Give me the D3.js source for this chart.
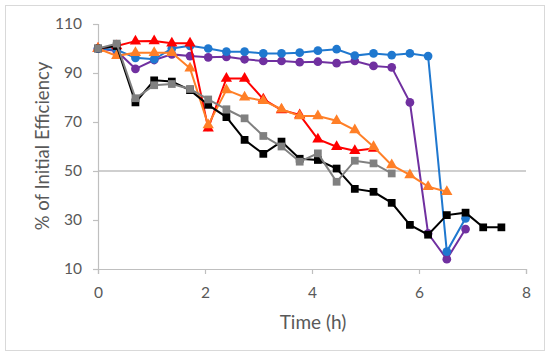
<!DOCTYPE html>
<html>
<head>
<meta charset="utf-8">
<script src="https://cdn.jsdelivr.net/npm/d3@7"></script>
<style>
  body { margin: 0; background: #fff; }
  svg { display: block; font-family: Lato, "Open Sans", sans-serif; }
  .line { fill: none; stroke-width: 2; }
</style>
</head>
<body>
<svg></svg>
<script>
// sampling times (h), shared by every series
var times = [0, 0.35, 0.70, 1.05, 1.38, 1.72, 2.06, 2.40, 2.74, 3.09, 3.43, 3.77,
             4.11, 4.46, 4.80, 5.15, 5.49, 5.83, 6.17, 6.52, 6.87, 7.20, 7.54];

var blackVals  = [100, 101, 78, 87, 86.5, 83, 77, 72, 62.7, 57, 62, 55, 54.5, 51, 42.7,
                  41.5, 37, 28, 24, 32, 33, 27, 27];
var grayVals   = [100, 102, 79.7, 85, 85.5, 83.5, 79.2, 75.2, 71.5, 64.3, 60, 53.8, 57.2,
                  45.6, 54.2, 53.1, 49];
var redVals    = [100, 101, 103, 103.1, 102.1, 102.1, 67.5, 87.8, 87.8, 79.3, 74.9, 72.9,
                  63, 59.9, 58.3, 59.2];
var orangeVals = [100, 97, 98.3, 98.3, 98.3, 91.9, 68.8, 83.1, 80.1, 78.7, 75.2, 72.4,
                  72.4, 70.5, 66.7, 59.9, 52.4, 48.4, 43.6, 41.5];
var blueVals   = [100, 99.5, 96.2, 95.6, 100, 101.1, 100, 98.7, 98.7, 98, 98, 98.3, 99.1,
                  99.7, 97.1, 98, 97.3, 98, 96.9, 17.1, 30.7];
var purpleVals = [100, 99, 91.7, 95.3, 97.6, 96.9, 96.4, 96.6, 95.6, 94.9, 94.9, 94.4,
                  94.6, 94, 94.9, 92.9, 92.3, 78, 24.5, 14, 26.3];

var xTicks = [0, 2, 4, 6, 8];
var yTicks = [10, 30, 50, 70, 90, 110];
var refLine = 50;

// draw order: later ones on top
var series = [
  { name: "purple", vals: purpleVals, color: "#7030A0", shape: d3.symbolCircle, size: 60 },
  { name: "blue",   vals: blueVals,   color: "#1F78CF", shape: d3.symbolCircle, size: 60 },
  { name: "red",    vals: redVals,    color: "#FF0000", shape: d3.symbolTriangle, size: 55 },
  { name: "orange", vals: orangeVals, color: "#FF7F27", shape: d3.symbolTriangle, size: 55 },
  { name: "black",  vals: blackVals,  color: "#000000", shape: d3.symbolSquare, size: 60 },
  { name: "gray",   vals: grayVals,   color: "#808080", shape: d3.symbolSquare, size: 60 }
];

var svgWidth = 550, svgHeight = 358;
var svg = d3.select("svg").attr("width", svgWidth).attr("height", svgHeight);

// chart frame
svg.append("rect")
  .attr("x", 5.5).attr("y", 5.5)
  .attr("width", 539).attr("height", 345)
  .attr("fill", "none").attr("stroke", "#d9d9d9");

var x = d3.scaleLinear().domain([0, 8]).range([98, 526]);
var y = d3.scaleLinear().domain([10, 110]).range([269, 24]);

// 50% reference line
svg.append("line")
  .attr("x1", x(0)).attr("x2", x(8))
  .attr("y1", y(refLine)).attr("y2", y(refLine))
  .attr("stroke", "#bfbfbf").attr("stroke-width", 1.5);

// axes
var xAxis = svg.append("g")
  .attr("transform", "translate(0," + y(10) + ")")
  .call(d3.axisBottom(x).tickValues(xTicks).tickSize(5).tickPadding(13));
var yAxis = svg.append("g")
  .attr("transform", "translate(" + x(0) + ",0)")
  .call(d3.axisLeft(y).tickValues(yTicks).tickSize(5).tickPadding(11));

[xAxis, yAxis].forEach(function(a) {
  a.select(".domain").attr("stroke", "#bfbfbf").attr("stroke-width", 1.2);
  a.selectAll(".tick line").attr("stroke", "#bfbfbf").attr("stroke-width", 1.2);
  a.selectAll(".tick text").attr("fill", "#595959").style("font-size", "15.5px")
    .style("font-family", "Lato, 'Open Sans', sans-serif");
});

// axis titles
svg.append("text")
  .attr("x", 313).attr("y", 329)
  .attr("text-anchor", "middle")
  .attr("fill", "#595959").style("font-size", "19px")
  .text("Time (h)");

svg.append("text")
  .attr("transform", "translate(49,146) rotate(-90)")
  .attr("text-anchor", "middle")
  .attr("fill", "#595959").style("font-size", "18.5px")
  .text("% of Initial Efficiency");

var line = d3.line()
  .x(function(d) { return x(d.t); })
  .y(function(d) { return y(d.v); });

series.forEach(function(s) {
  var data = s.vals.map(function(v, i) { return { t: times[i], v: v }; });
  var g = svg.append("g").attr("class", "series-" + s.name);
  g.append("path")
    .datum(data)
    .attr("class", "line")
    .attr("stroke", s.color)
    .attr("d", line);
  g.selectAll("path.marker")
    .data(data)
    .enter().append("path")
    .attr("class", "marker")
    .attr("transform", function(d) { return "translate(" + x(d.t) + "," + y(d.v) + ")"; })
    .attr("d", d3.symbol().type(s.shape).size(s.size))
    .attr("fill", s.color);
});
</script>
</body>
</html>
